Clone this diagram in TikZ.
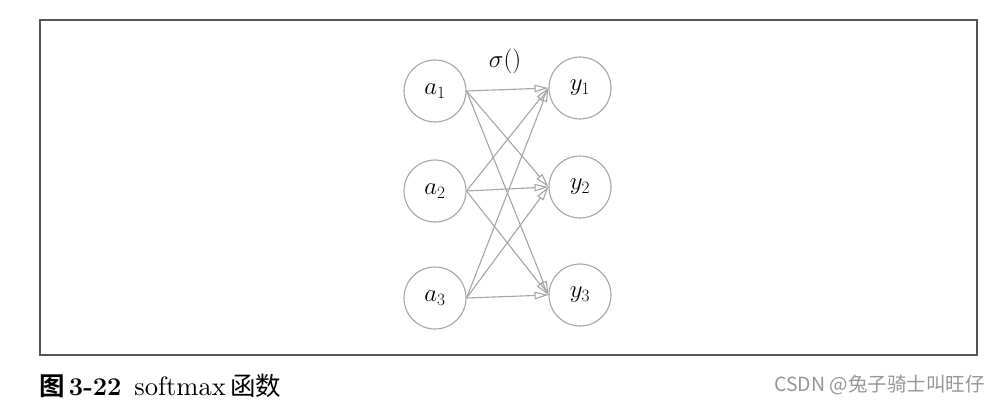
\documentclass[tikz,border=0pt]{standalone}
\usepackage{fontspec}
\newfontfamily\cjk{Noto Sans CJK SC}
\newfontfamily\cjkbold{Noto Sans CJK SC Bold}
\newfontfamily\capfont{lmroman10-regular.otf}
\usetikzlibrary{arrows.meta}
\definecolor{linegray}{RGB}{165,165,165}
\definecolor{framegray}{RGB}{85,85,85}
\definecolor{markgray}{RGB}{150,150,150}
\begin{document}
\begin{tikzpicture}[x=1pt,y=-1pt,
    neuron/.style={draw=linegray,line width=1.1pt,circle,minimum size=62pt,inner sep=0pt,
      font=\fontsize{24}{24}\selectfont},
    link/.style={draw=linegray,line width=1.1pt,-{Triangle[open,length=14pt,width=7.5pt]}}]
  \useasboundingbox (0,0) rectangle (999,412);
  \draw[framegray,line width=1.3pt] (40,20) rectangle (977,355);
  % input layer
  \node[neuron] (a1) at (435,91) {$a_1$};
  \node[neuron] (a2) at (435,191) {$a_2$};
  \node[neuron] (a3) at (435,298) {$a_3$};
  % output layer
  \node[neuron] (y1) at (580,88) {$y_1$};
  \node[neuron] (y2) at (580,187) {$y_2$};
  \node[neuron] (y3) at (580,295) {$y_3$};
  \node[font=\fontsize{24}{24}\selectfont] (sigma) at (505,61) {$\sigma()$};
  \draw[link] (a1.east) -- (y1.west);
  \draw[link] (a1.east) -- (y2.west);
  \draw[link] (a1.east) -- (y3.west);
  \draw[link] (a2.east) -- (y1.west);
  \draw[link] (a2.east) -- (y2.west);
  \draw[link] (a2.east) -- (y3.west);
  \draw[link] (a3.east) -- (y1.west);
  \draw[link] (a3.east) -- (y2.west);
  \draw[link] (a3.east) -- (y3.west);
  % caption and mark
  \node[anchor=base west,inner sep=0pt,font=\fontsize{25.5}{25.5}\selectfont] (caption) at (39,395)
    {{\cjkbold 图}\,\textbf{3-22}\hspace{0.5em}{\capfont\fontsize{26.5}{26.5}\selectfont softmax}\,{\cjk 函数}};
  \node[anchor=east,inner sep=0pt,text=markgray,font=\cjk\fontsize{19.5}{19.5}\selectfont] (mark) at (985,385)
    {CSDN @兔子骑士叫旺仔};
\end{tikzpicture}
\end{document}
